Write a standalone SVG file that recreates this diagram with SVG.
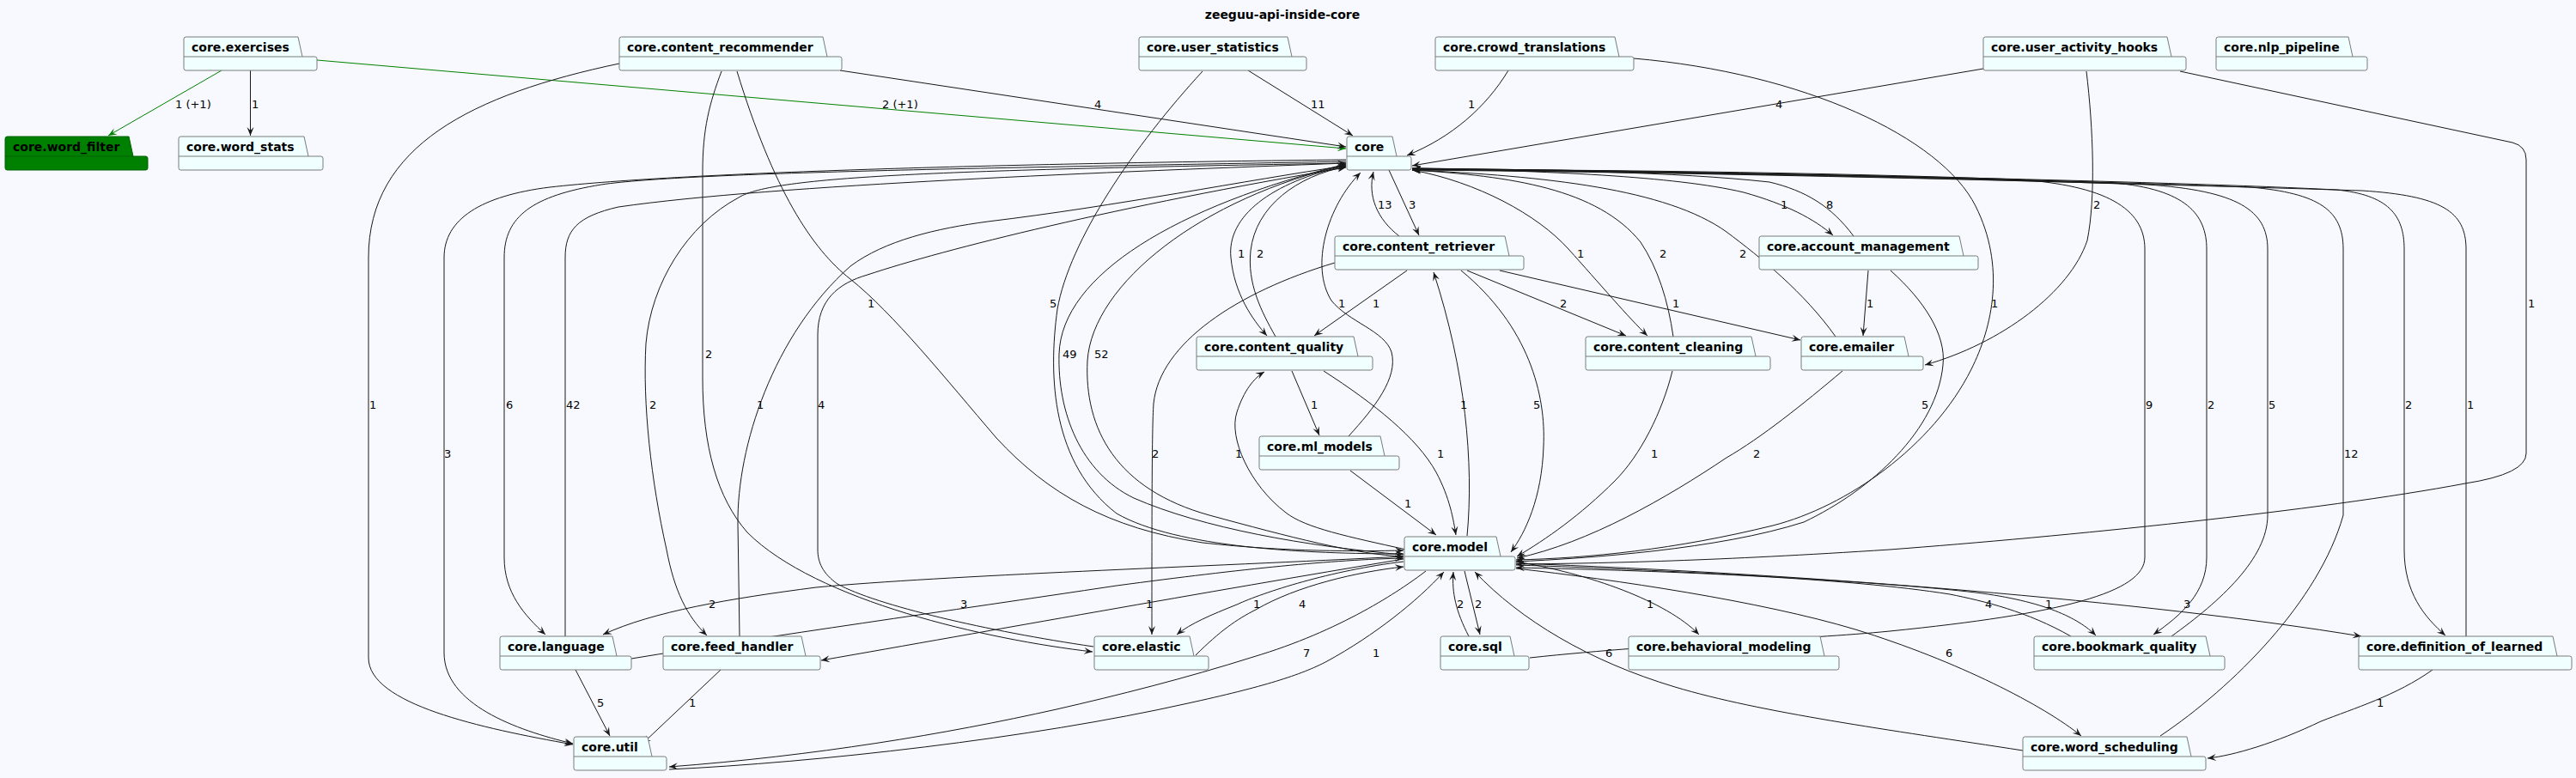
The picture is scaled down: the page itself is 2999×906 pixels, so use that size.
<svg xmlns="http://www.w3.org/2000/svg" width="2999" height="906" viewBox="0 0 2999 906">
<style>
.bg{fill:#F7F9FE}
.n .o{fill:#F0FFFF;stroke:#7A7A7A;stroke-width:1}
.n .s{fill:none;stroke:#7A7A7A;stroke-width:1}
.n text{font-family:"DejaVu Sans",sans-serif;font-weight:bold;font-size:14px;fill:#000}
#n_word_filter .o{fill:#008000;stroke:#006000}
#n_word_filter .s{stroke:#006000}
.e path{fill:none;stroke:#181818;stroke-width:1;marker-end:url(#a)}
.e path.g{stroke:#008000;marker-end:url(#ag)}
.l text{font-family:"DejaVu Sans",sans-serif;font-size:13px;fill:#000}
.t{font-family:"DejaVu Sans",sans-serif;font-weight:bold;font-size:14px;fill:#000}
</style>
<defs>
<marker id="a" viewBox="-11 -5 12 10" refX="0" refY="0" markerWidth="12" markerHeight="10" orient="auto" markerUnits="userSpaceOnUse"><path d="M0,0 L-10,-4 L-6,0 L-10,4 Z" fill="#181818"/></marker>
<marker id="ag" viewBox="-11 -5 12 10" refX="0" refY="0" markerWidth="12" markerHeight="10" orient="auto" markerUnits="userSpaceOnUse"><path d="M0,0 L-10,-4 L-6,0 L-10,4 Z" fill="#008000"/></marker>
</defs>
<rect class="bg" x="0" y="0" width="2999" height="906"/>
<text class="t" x="1493" y="22" text-anchor="middle">zeeguu-api-inside-core</text>

<g id="connectors" class="e">
<path class="g" d="M258,82 L126,158"/>
<path d="M291.5,82 L291.5,158"/>
<path class="g" d="M369,70 L1567,173"/>
<path d="M978,82 L1567,171"/>
<path d="M1453,82 L1575,158"/>
<path d="M1756,82 C1730,125 1690,160 1638,181"/>
<path d="M2309,80 L1644,193"/>
<path d="M1629,275 C1603,255 1592,228 1599,200"/>
<path d="M1617,198 L1652,274"/>
<path d="M1644,196 C1800,199 1950,205 2030,224 C2080,238 2112,255 2134,274"/>
<path d="M2158,275 C2132,240 2102,222 2060,212 C1950,200 1800,198 1644,197"/>
<path d="M1567,193 C1480,212 1428,252 1433,300 C1437,342 1458,372 1475,391"/>
<path d="M1485,392 C1468,362 1452,330 1456,292 C1462,240 1510,205 1567,194"/>
<path d="M1644,198 C1720,212 1790,250 1826,290 C1862,330 1896,370 1918,391"/>
<path d="M1948,392 C1942,350 1930,312 1910,282 C1860,220 1760,205 1644,198"/>
<path d="M2137,392 C2100,340 2050,300 2010,270 C1940,220 1800,205 1644,198"/>
<path d="M858,83 C900,220 945,290 990,325 C1040,365 1100,440 1160,510 C1220,575 1290,615 1400,632 C1500,643 1580,642 1634,641"/>
<path d="M1400,83 C1320,170 1245,280 1231,360 C1220,440 1225,540 1300,598 C1370,638 1520,645 1634,645"/>
<path d="M1570,508 C1600,475 1628,440 1620,410 C1612,385 1570,375 1550,350 C1525,310 1545,240 1584,201"/>
<path d="M1638,315 L1530,391"/>
<path d="M1708,315 L1893,391"/>
<path d="M1746,315 L2096,396"/>
<path d="M2175,315 L2169,391"/>
<path d="M1902,68 C2100,85 2260,160 2300,240 C2335,310 2320,380 2295,430 C2250,520 2150,590 2064,612 C1950,640 1850,650 1765,652"/>
<path d="M2538,83 L2925,166 Q2941,170 2941,186 L2941,528 Q2941,552 2870,563 C2700,595 2400,625 2200,640 C2000,653 1870,656 1765,657"/>
<path d="M1634,646 C1520,636 1400,615 1320,580 C1258,550 1231,480 1233,412 C1236,320 1370,240 1567,191"/>
<path d="M1567,192 C1400,230 1272,330 1266,420 C1262,500 1300,570 1408,600 C1500,625 1580,646 1634,648"/>
<path d="M840,83 C826,120 818,150 818,200 L818,440 C818,520 835,580 870,620 C950,700 1150,745 1272,759"/>
<path d="M721,74 C550,110 429,170 429,300 L429,766 C429,820 560,848 667,867"/>
<path d="M1567,188 C1200,195 800,200 700,215 C620,228 587,252 587,300 L587,649 C587,690 610,716 635,739"/>
<path d="M658,741 L658,300 C658,268 672,252 720,241 C900,215 1300,200 1567,190"/>
<path d="M1567,190 C1100,198 900,205 860,230 C800,262 758,330 752,400 C748,470 758,560 776,640 C785,688 800,718 823,740"/>
<path d="M861,741 L859,610 C858,520 900,390 990,310 C1030,280 1090,266 1150,258 C1300,240 1450,210 1567,193"/>
<path d="M1273,753 C1150,735 1020,705 975,680 C958,668 952,655 952,640 L952,390 C952,350 975,330 1010,320 C1100,290 1300,240 1567,195"/>
<path d="M1504,432 L1536,507"/>
<path d="M1708,624 C1716,540 1706,430 1669,317"/>
<path d="M1701,315 C1780,380 1800,460 1797,520 C1795,580 1776,620 1759,643"/>
<path d="M2201,315 C2240,350 2266,390 2262,425 C2255,500 2180,570 2100,608 C2000,640 1850,650 1765,654"/>
<path d="M1781,766 C1950,748 2100,745 2200,735 C2400,715 2497,690 2497,649 L2497,290 C2497,242 2450,216 2350,209 C2100,200 1850,198 1644,197"/>
<path d="M1644,196 C1900,199 2200,204 2460,213 C2545,220 2569,250 2569,290 L2569,649 C2569,690 2540,716 2507,739"/>
<path d="M2528,741 C2585,700 2640,650 2640,600 L2640,290 C2640,245 2605,222 2500,215 C2200,205 1900,200 1644,197"/>
<path d="M1644,196 C2000,200 2500,210 2720,221 C2780,227 2799,250 2799,290 L2799,640 C2799,690 2822,718 2847,740"/>
<path d="M2871,741 L2871,290 C2871,246 2842,228 2750,222 C2400,211 2000,201 1644,198"/>
<path d="M2515,857 C2600,800 2700,700 2728,600 L2728,290 C2728,245 2700,225 2620,218 C2300,206 1950,200 1644,197"/>
<path d="M2429,83 C2437,150 2440,230 2430,280 C2410,340 2330,400 2241,425"/>
<path d="M1567,186 C1200,190 800,200 640,218 C560,228 517,255 517,300 L517,760 C517,820 600,850 667,866"/>
<path d="M1554,306 C1440,340 1350,400 1343,470 C1341,500 1341,600 1341,739"/>
<path d="M1637,640 C1570,625 1520,615 1497,597 C1455,565 1430,510 1440,480 C1448,455 1460,440 1472,433"/>
<path d="M1541,432 C1600,470 1650,510 1672,550 C1688,580 1692,605 1695,623"/>
<path d="M1947,432 C1935,480 1910,530 1880,560 C1840,600 1800,628 1766,648"/>
<path d="M2145,432 C2100,470 2050,510 2010,533 C1940,580 1850,632 1766,650"/>
<path d="M1572,548 L1672,623"/>
<path d="M1634,648 C1400,660 1100,670 950,684 C850,697 760,712 702,739"/>
<path d="M735,767 C900,740 1100,712 1300,682 C1450,662 1550,652 1634,650"/>
<path d="M1634,651 C1400,690 1150,735 956,769"/>
<path d="M1634,654 C1550,664 1470,690 1440,704 C1410,716 1386,726 1370,739"/>
<path d="M1392,763 C1420,735 1440,721 1462,710 C1510,682 1580,666 1634,660"/>
<path d="M1710,741 C1695,712 1690,690 1692,666"/>
<path d="M1705,665 L1723,739"/>
<path d="M1765,654 C1850,668 1940,700 1978,739"/>
<path d="M2411,741 C2360,712 2310,700 2270,692 C2150,673 1950,665 1765,661"/>
<path d="M1765,658 C1950,664 2200,678 2300,690 C2380,700 2420,720 2440,740"/>
<path d="M1765,656 C2100,668 2500,700 2749,741"/>
<path d="M1660,665 C1630,688 1560,735 1459,765 C1380,790 1300,810 1230,826 C1100,855 950,880 779,893"/>
<path d="M779,896 C950,888 1200,860 1383,819 C1470,800 1515,786 1545,770 C1600,740 1650,700 1681,666"/>
<path d="M2355,874 C2200,850 2050,830 1950,800 C1850,770 1770,722 1717,666"/>
<path d="M1765,662 C1880,675 2050,700 2160,733 C2280,770 2380,822 2423,857"/>
<path d="M670,780 L710,857"/>
<path d="M839,780 L748,866"/>
<path d="M2832,780 C2790,810 2740,825 2702,840 C2650,865 2600,880 2570,883"/>
</g>

<g id="labels" class="l">
<text x="204" y="126">1 (+1)</text>
<text x="293" y="126">1</text>
<text x="1027" y="126">2 (+1)</text>
<text x="1274" y="126">4</text>
<text x="1526" y="126">11</text>
<text x="1709" y="126">1</text>
<text x="2067" y="126">4</text>
<text x="1604" y="243">13</text>
<text x="1640" y="243">3</text>
<text x="2073" y="243">1</text>
<text x="2126" y="243">8</text>
<text x="2437" y="243">2</text>
<text x="1441" y="300">1</text>
<text x="1463" y="300">2</text>
<text x="1836" y="300">1</text>
<text x="1932" y="300">2</text>
<text x="2025" y="300">2</text>
<text x="1010" y="358">1</text>
<text x="1222" y="358">5</text>
<text x="1558" y="358">1</text>
<text x="1598" y="358">1</text>
<text x="1816" y="358">2</text>
<text x="1947" y="358">1</text>
<text x="2173" y="358">1</text>
<text x="2318" y="358">1</text>
<text x="2943" y="358">1</text>
<text x="1237" y="417">49</text>
<text x="1274" y="417">52</text>
<text x="821" y="417">2</text>
<text x="430" y="476">1</text>
<text x="589" y="476">6</text>
<text x="659" y="476">42</text>
<text x="756" y="476">2</text>
<text x="881" y="476">1</text>
<text x="952" y="476">4</text>
<text x="1526" y="476">1</text>
<text x="1700" y="476">1</text>
<text x="1785" y="476">5</text>
<text x="2237" y="476">5</text>
<text x="2498" y="476">9</text>
<text x="2570" y="476">2</text>
<text x="2641" y="476">5</text>
<text x="2800" y="476">2</text>
<text x="2872" y="476">1</text>
<text x="517" y="533">3</text>
<text x="1341" y="533">2</text>
<text x="1438" y="533">1</text>
<text x="1673" y="533">1</text>
<text x="1922" y="533">1</text>
<text x="2041" y="533">2</text>
<text x="2729" y="533">12</text>
<text x="1635" y="591">1</text>
<text x="825" y="708">2</text>
<text x="1118" y="708">3</text>
<text x="1334" y="708">1</text>
<text x="1459" y="708">1</text>
<text x="1512" y="708">4</text>
<text x="1696" y="708">2</text>
<text x="1717" y="708">2</text>
<text x="1917" y="708">1</text>
<text x="2311" y="708">4</text>
<text x="2381" y="708">1</text>
<text x="2542" y="708">3</text>
<text x="1517" y="765">7</text>
<text x="1598" y="765">1</text>
<text x="1869" y="765">6</text>
<text x="2265" y="765">6</text>
<text x="695" y="823">5</text>
<text x="802" y="823">1</text>
<text x="2767" y="823">1</text>
</g>

<g id="n_exercises" class="n"><path class="o" d="M214,45.5 Q214,43 216.5,43 H347 L352,66 H366.5 Q369,66 369,68.5 V79.5 Q369,82 366.5,82 H216.5 Q214,82 214,79.5 Z"/><path class="s" d="M214,66 H352"/><text x="223" y="60">core.exercises</text></g>
<g id="n_content_recommender" class="n"><path class="o" d="M721,45.5 Q721,43 723.5,43 H958 L963,66 H977.5 Q980,66 980,68.5 V79.5 Q980,82 977.5,82 H723.5 Q721,82 721,79.5 Z"/><path class="s" d="M721,66 H963"/><text x="730" y="60">core.content_recommender</text></g>
<g id="n_user_statistics" class="n"><path class="o" d="M1326,45.5 Q1326,43 1328.5,43 H1499 L1504,66 H1518.5 Q1521,66 1521,68.5 V79.5 Q1521,82 1518.5,82 H1328.5 Q1326,82 1326,79.5 Z"/><path class="s" d="M1326,66 H1504"/><text x="1335" y="60">core.user_statistics</text></g>
<g id="n_crowd_translations" class="n"><path class="o" d="M1671,45.5 Q1671,43 1673.5,43 H1880 L1885,66 H1899.5 Q1902,66 1902,68.5 V79.5 Q1902,82 1899.5,82 H1673.5 Q1671,82 1671,79.5 Z"/><path class="s" d="M1671,66 H1885"/><text x="1680" y="60">core.crowd_translations</text></g>
<g id="n_user_activity_hooks" class="n"><path class="o" d="M2309,45.5 Q2309,43 2311.5,43 H2523 L2528,66 H2542.5 Q2545,66 2545,68.5 V79.5 Q2545,82 2542.5,82 H2311.5 Q2309,82 2309,79.5 Z"/><path class="s" d="M2309,66 H2528"/><text x="2318" y="60">core.user_activity_hooks</text></g>
<g id="n_nlp_pipeline" class="n"><path class="o" d="M2580,45.5 Q2580,43 2582.5,43 H2734 L2739,66 H2753.5 Q2756,66 2756,68.5 V79.5 Q2756,82 2753.5,82 H2582.5 Q2580,82 2580,79.5 Z"/><path class="s" d="M2580,66 H2739"/><text x="2589" y="60">core.nlp_pipeline</text></g>
<g id="n_word_filter" class="n"><path class="o" d="M6,161.5 Q6,159 8.5,159 H150 L155,182 H169.5 Q172,182 172,184.5 V195.5 Q172,198 169.5,198 H8.5 Q6,198 6,195.5 Z"/><path class="s" d="M6,182 H155"/><text x="15" y="176">core.word_filter</text></g>
<g id="n_word_stats" class="n"><path class="o" d="M208,161.5 Q208,159 210.5,159 H354 L359,182 H373.5 Q376,182 376,184.5 V195.5 Q376,198 373.5,198 H210.5 Q208,198 208,195.5 Z"/><path class="s" d="M208,182 H359"/><text x="217" y="176">core.word_stats</text></g>
<g id="n_core" class="n"><path class="o" d="M1568,161.5 Q1568,159 1570.5,159 H1621 L1626,182 H1640.5 Q1643,182 1643,184.5 V195.5 Q1643,198 1640.5,198 H1570.5 Q1568,198 1568,195.5 Z"/><path class="s" d="M1568,182 H1626"/><text x="1577" y="176">core</text></g>
<g id="n_content_retriever" class="n"><path class="o" d="M1554,277.5 Q1554,275 1556.5,275 H1752 L1757,298 H1771.5 Q1774,298 1774,300.5 V311.5 Q1774,314 1771.5,314 H1556.5 Q1554,314 1554,311.5 Z"/><path class="s" d="M1554,298 H1757"/><text x="1563" y="292">core.content_retriever</text></g>
<g id="n_account_management" class="n"><path class="o" d="M2048,277.5 Q2048,275 2050.5,275 H2281 L2286,298 H2300.5 Q2303,298 2303,300.5 V311.5 Q2303,314 2300.5,314 H2050.5 Q2048,314 2048,311.5 Z"/><path class="s" d="M2048,298 H2286"/><text x="2057" y="292">core.account_management</text></g>
<g id="n_content_quality" class="n"><path class="o" d="M1393,394.5 Q1393,392 1395.5,392 H1576 L1581,415 H1595.5 Q1598,415 1598,417.5 V428.5 Q1598,431 1595.5,431 H1395.5 Q1393,431 1393,428.5 Z"/><path class="s" d="M1393,415 H1581"/><text x="1402" y="409">core.content_quality</text></g>
<g id="n_content_cleaning" class="n"><path class="o" d="M1846,394.5 Q1846,392 1848.5,392 H2039 L2044,415 H2058.5 Q2061,415 2061,417.5 V428.5 Q2061,431 2058.5,431 H1848.5 Q1846,431 1846,428.5 Z"/><path class="s" d="M1846,415 H2044"/><text x="1855" y="409">core.content_cleaning</text></g>
<g id="n_emailer" class="n"><path class="o" d="M2097,394.5 Q2097,392 2099.5,392 H2217 L2222,415 H2236.5 Q2239,415 2239,417.5 V428.5 Q2239,431 2236.5,431 H2099.5 Q2097,431 2097,428.5 Z"/><path class="s" d="M2097,415 H2222"/><text x="2106" y="409">core.emailer</text></g>
<g id="n_ml_models" class="n"><path class="o" d="M1466,510.5 Q1466,508 1468.5,508 H1607 L1612,531 H1626.5 Q1629,531 1629,533.5 V544.5 Q1629,547 1626.5,547 H1468.5 Q1466,547 1466,544.5 Z"/><path class="s" d="M1466,531 H1612"/><text x="1475" y="525">core.ml_models</text></g>
<g id="n_model" class="n"><path class="o" d="M1635,627.5 Q1635,625 1637.5,625 H1742 L1747,648 H1761.5 Q1764,648 1764,650.5 V661.5 Q1764,664 1761.5,664 H1637.5 Q1635,664 1635,661.5 Z"/><path class="s" d="M1635,648 H1747"/><text x="1644" y="642">core.model</text></g>
<g id="n_language" class="n"><path class="o" d="M582,743.5 Q582,741 584.5,741 H713 L718,764 H732.5 Q735,764 735,766.5 V777.5 Q735,780 732.5,780 H584.5 Q582,780 582,777.5 Z"/><path class="s" d="M582,764 H718"/><text x="591" y="758">core.language</text></g>
<g id="n_feed_handler" class="n"><path class="o" d="M772,743.5 Q772,741 774.5,741 H933 L938,764 H952.5 Q955,764 955,766.5 V777.5 Q955,780 952.5,780 H774.5 Q772,780 772,777.5 Z"/><path class="s" d="M772,764 H938"/><text x="781" y="758">core.feed_handler</text></g>
<g id="n_elastic" class="n"><path class="o" d="M1274,743.5 Q1274,741 1276.5,741 H1385 L1390,764 H1404.5 Q1407,764 1407,766.5 V777.5 Q1407,780 1404.5,780 H1276.5 Q1274,780 1274,777.5 Z"/><path class="s" d="M1274,764 H1390"/><text x="1283" y="758">core.elastic</text></g>
<g id="n_sql" class="n"><path class="o" d="M1677,743.5 Q1677,741 1679.5,741 H1758 L1763,764 H1777.5 Q1780,764 1780,766.5 V777.5 Q1780,780 1777.5,780 H1679.5 Q1677,780 1677,777.5 Z"/><path class="s" d="M1677,764 H1763"/><text x="1686" y="758">core.sql</text></g>
<g id="n_behavioral_modeling" class="n"><path class="o" d="M1896,743.5 Q1896,741 1898.5,741 H2119 L2124,764 H2138.5 Q2141,764 2141,766.5 V777.5 Q2141,780 2138.5,780 H1898.5 Q1896,780 1896,777.5 Z"/><path class="s" d="M1896,764 H2124"/><text x="1905" y="758">core.behavioral_modeling</text></g>
<g id="n_bookmark_quality" class="n"><path class="o" d="M2368,743.5 Q2368,741 2370.5,741 H2568 L2573,764 H2587.5 Q2590,764 2590,766.5 V777.5 Q2590,780 2587.5,780 H2370.5 Q2368,780 2368,777.5 Z"/><path class="s" d="M2368,764 H2573"/><text x="2377" y="758">core.bookmark_quality</text></g>
<g id="n_definition_of_learned" class="n"><path class="o" d="M2746,743.5 Q2746,741 2748.5,741 H2972 L2977,764 H2991.5 Q2994,764 2994,766.5 V777.5 Q2994,780 2991.5,780 H2748.5 Q2746,780 2746,777.5 Z"/><path class="s" d="M2746,764 H2977"/><text x="2755" y="758">core.definition_of_learned</text></g>
<g id="n_util" class="n"><path class="o" d="M668,860.5 Q668,858 670.5,858 H754 L759,881 H773.5 Q776,881 776,883.5 V894.5 Q776,897 773.5,897 H670.5 Q668,897 668,894.5 Z"/><path class="s" d="M668,881 H759"/><text x="677" y="875">core.util</text></g>
<g id="n_word_scheduling" class="n"><path class="o" d="M2355,860.5 Q2355,858 2357.5,858 H2546 L2551,881 H2565.5 Q2568,881 2568,883.5 V894.5 Q2568,897 2565.5,897 H2357.5 Q2355,897 2355,894.5 Z"/><path class="s" d="M2355,881 H2551"/><text x="2364" y="875">core.word_scheduling</text></g>
</svg>
